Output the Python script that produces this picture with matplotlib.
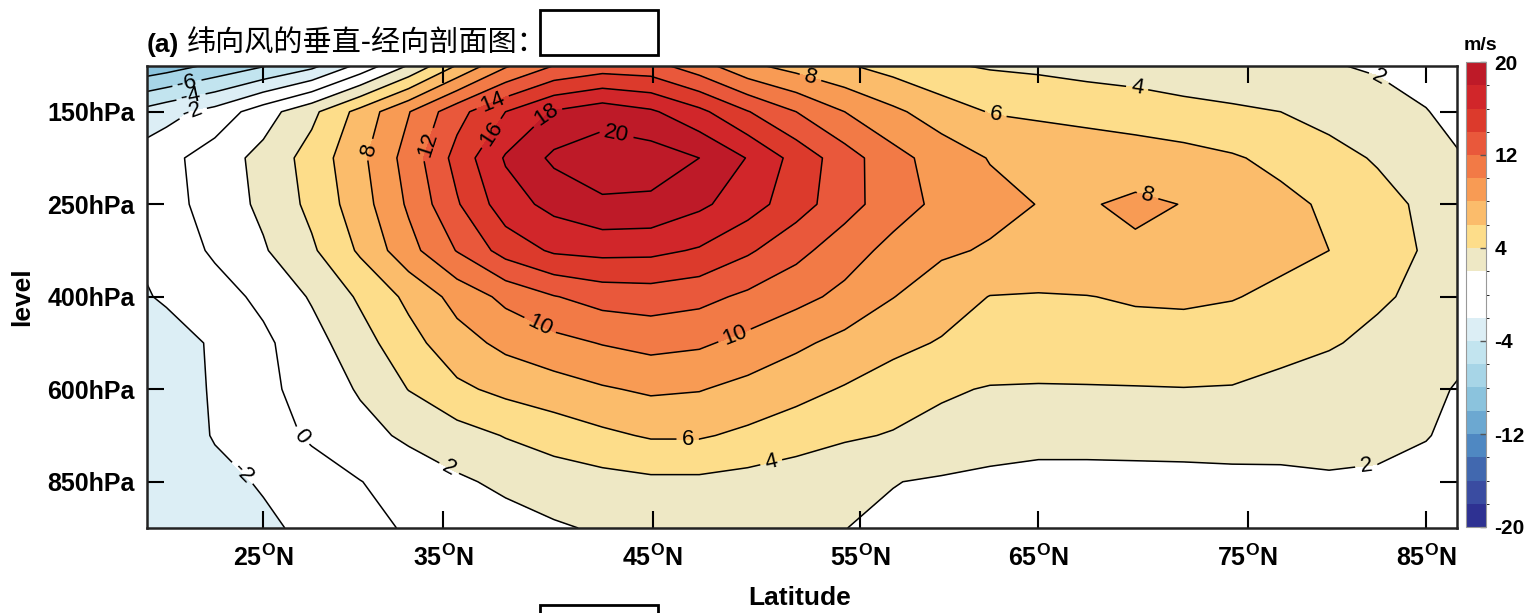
import numpy as np
import matplotlib
matplotlib.use("Agg")
import matplotlib.pyplot as plt
from matplotlib.colors import ListedColormap, BoundaryNorm
from matplotlib.cm import ScalarMappable
from matplotlib.patches import Rectangle

plt.rcParams['font.family'] = ['Liberation Sans', 'Noto Sans CJK SC', 'DejaVu Sans']
plt.rcParams['mathtext.fontset'] = 'custom'
plt.rcParams['mathtext.rm'] = 'Liberation Sans'
plt.rcParams['mathtext.bf'] = 'Liberation Sans:bold'
plt.rcParams['contour.negative_linestyle'] = 'solid'
plt.rcParams['axes.unicode_minus'] = False

# ================================
# data: zonal wind (m/s), rows = pressure levels, cols = latitude
# ================================
lats = [17.5, 20.0, 22.5, 25.0, 27.5, 30.0, 32.5, 35.0, 37.5, 40.0, 42.5, 45.0,
        47.5, 50.0, 52.5, 55.0, 57.5, 60.0, 62.5, 65.0, 67.5, 70.0, 72.5, 75.0,
        77.5, 80.0, 82.5, 85.0, 87.5]
levels_hpa = [100, 150, 200, 250, 300, 400, 500, 600, 700, 850, 925]

u100 = [-10.0, -9.0, -7.6, -6.2, -4.6, -1.5, 2.1, 6.1, 9.7, 12.0, 12.9, 12.7, 10.8, 8.4, 7.2,
        6.2, 5.2, 4.2, 3.8, 3.6, 3.3, 3.1, 2.8, 2.6, 2.3, 2.1, 1.8, 1.5, 1.2]
u150 = [-4.2, -2.7, -1.3, 1.1, 3.5, 6.7, 9.9, 13.3, 16.0, 18.2, 19.2, 18.3, 16.5, 14.1, 12.0,
        10.0, 8.4, 7.0, 5.9, 5.6, 5.3, 5.0, 4.6, 4.3, 4.0, 3.3, 2.7, 2.05, 1.4]
u200 = [-1.8, -0.6, 1.0, 2.6, 4.8, 7.5, 10.8, 14.7, 18.2, 20.4, 21.1, 21.0, 20.0, 17.9, 15.3,
        12.9, 10.7, 9.1, 7.9, 7.6, 7.3, 7.0, 6.7, 6.2, 5.5, 4.7, 3.8, 2.8, 1.8]
u250 = [-1.5, -0.8, 0.9, 2.4, 4.5, 7.1, 10.3, 13.8, 17.1, 18.6, 19.7, 19.6, 18.4, 16.9, 14.9,
        12.8, 10.9, 9.5, 8.6, 7.95, 7.85, 8.35, 7.95, 7.3, 6.5, 5.7, 4.7, 3.6, 2.6]
u300 = [-2.3, -1.2, 0.3, 1.8, 3.7, 6.3, 9.3, 12.1, 14.8, 16.3, 16.6, 16.5, 15.8, 14.3, 12.6,
        10.9, 9.4, 8.3, 7.8, 7.6, 7.6, 7.7, 7.4, 7.0, 6.5, 6.0, 4.9, 3.8, 2.8]
u400 = [-2.8, -1.7, -0.8, 0.45, 2.2, 4.3, 6.45, 8.7, 10.5, 11.9, 12.8, 13.0, 12.6, 11.6, 10.6,
        9.5, 8.05, 6.9, 5.95, 5.85, 5.95, 6.2, 6.3, 6.1, 5.6, 5.0, 4.3, 3.5, 2.6]
u500 = [-3.6, -3.0, -1.7, -0.4, 1.25, 3.2, 5.3, 7.2, 8.5, 9.4, 10.1, 10.6, 10.3, 9.4, 8.4,
        7.4, 6.5, 5.85, 5.6, 5.4, 5.3, 5.25, 5.2, 5.0, 4.6, 4.2, 3.5, 2.8, 2.1]
u600 = [-4.0, -3.2, -1.75, -0.5, 0.8, 2.2, 4.05, 5.6, 6.5, 7.1, 7.8, 8.3, 8.1, 7.4, 6.6,
        5.85, 5.1, 4.3, 3.85, 3.8, 3.85, 3.9, 3.95, 3.9, 3.5, 3.0, 2.6, 2.2, 1.8]
u700 = [-4.0, -3.3, -1.85, -0.85, 0.27, 1.35, 2.35, 3.2, 4.1, 4.9, 5.6, 6.2, 6.2, 5.6, 5.0,
        4.3, 3.85, 3.3, 2.8, 2.6, 2.6, 2.6, 2.6, 2.65, 2.6, 2.45, 2.25, 2.05, 1.6]
u850 = [-4.2, -3.6, -2.6, -1.8, -0.9, -0.05, 0.85, 1.7, 2.4, 2.9, 3.3, 3.6, 3.6, 3.3, 2.8,
        2.3, 2.05, 1.8, 1.6, 1.45, 1.45, 1.5, 1.55, 1.6, 1.65, 1.85, 1.85, 1.65, 1.5]
u925 = [-4.0, -3.6, -3.1, -2.4, -1.5, -0.6, 0.2, 0.7, 1.25, 1.8, 2.2, 2.5, 2.5, 2.4, 2.2,
        2.02, 1.7, 1.5, 1.35, 1.3, 1.3, 1.3, 1.3, 1.3, 1.3, 1.3, 1.25, 1.2, 1.1]

u = np.array([u100, u150, u200, u250, u300, u400, u500, u600, u700, u850, u925])

xtick_pos = [25.0, 34.3, 45.1, 55.8, 65.0, 75.8, 85.0]
xtick_lat = [25, 35, 45, 55, 65, 75, 85]
ytick_hpa = [150, 250, 400, 600, 850]
cbar_ticks = [-20, -12, -4, 4, 12, 20]

clevs = np.arange(-20, 21, 2)
colors = ['#2E3192', '#3A4CA1', '#4168AF', '#4F88C2', '#6CA8D1', '#8BC3DD', '#A7D5E7',
          '#C2E4EF', '#DCEEF5', '#FFFFFF', '#FFFFFF', '#EEE8C5', '#FDDD8A', '#FBBC6B',
          '#F89B54', '#F27A46', '#E9583B', '#DC3A2C', '#D1262A', '#BE1A28']
cmap = ListedColormap(colors)
cmap.set_over(colors[-1])
cmap.set_under(colors[0])
norm = BoundaryNorm(clevs, cmap.N)

# ================================
# figure
# ================================
W, H = 1532, 613
fig = plt.figure(figsize=(W / 100, H / 100), dpi=100)
ax = fig.add_axes([147 / W, 1 - 528 / H, 1310 / W, 462.5 / H])

yidx = np.arange(len(levels_hpa))
cf = ax.contourf(lats, yidx, u, levels=clevs, cmap=cmap, norm=norm, extend='both')
cs = ax.contour(lats, yidx, u, levels=clevs, colors='k', linewidths=1.1)

ax.set_xlim(19.0, 86.6)
ax.set_ylim(len(levels_hpa) - 1, 0)

label_pos = [(21.1, 0.46), (21.3, 0.74), (21.4, 1.11), (27.05, 7.98), (23.95, 8.8),
             (34.6, 8.7), (51.3, 8.74), (46.9, 8.11), (39.3, 5.6), (49.35, 5.87),
             (30.5, 1.82), (33.5, 1.71), (36.85, 0.81), (36.5, 1.39), (39.5, 1.02),
             (43.25, 1.43), (53.2, 0.31), (62.75, 1.17), (70.0, 0.70), (82.5, 0.31),
             (70.5, 3.01), (81.95, 8.78)]
ax.clabel(cs, fmt='%d', fontsize=16, inline=True, manual=label_pos)

ax.set_xticks(xtick_pos)
ax.set_xticklabels([r'$\mathbf{%d^{O}N}$' % v for v in xtick_lat])
ax.set_yticks([levels_hpa.index(p) for p in ytick_hpa])
ax.set_yticklabels(['%dhPa' % p for p in ytick_hpa], fontweight='bold')
ax.tick_params(direction='in', length=12, width=1.5, top=True, right=True,
               labelsize=18)
ax.tick_params(axis='x', pad=12)
ax.tick_params(axis='y', pad=9)
for s in ax.spines.values():
    s.set_linewidth(1.8)
    s.set_color('#222222')

fig.text(800 / W, 1 - 598 / H, 'Latitude', ha='center', va='center',
         fontsize=19, fontweight='bold')
fig.text(22 / W, 1 - 297 / H, 'level', ha='center', va='center', rotation=90,
         fontsize=19, fontweight='bold')

fig.text(147 / W, 1 - 52 / H, '(a)', ha='left', va='baseline',
         fontsize=19, fontweight='bold')
fig.text(187 / W, 1 - 52 / H, '纬向风的垂直-经向剖面图：', ha='left', va='baseline',
         fontsize=21, fontweight='medium',
         family=['Noto Sans CJK SC', 'DejaVu Sans'])
fig.add_artist(Rectangle((540 / W, 1 - 55 / H), 118 / W, 45 / H, transform=fig.transFigure,
                         facecolor='white', edgecolor='black', lw=2))
fig.add_artist(Rectangle((540 / W, 1 - 640 / H), 118 / W, 35 / H, transform=fig.transFigure,
                         facecolor='white', edgecolor='black', lw=2))

# colorbar
cax = fig.add_axes([1466 / W, 1 - 527 / H, 20 / W, 465 / H])
cb = fig.colorbar(ScalarMappable(norm=norm, cmap=cmap), cax=cax, ticks=cbar_ticks)
cb.ax.tick_params(labelsize=15, direction='in', length=4, width=1, color='#555555', pad=6)
for t in cb.ax.get_yticklabels():
    t.set_fontweight('bold')
cb.outline.set_linewidth(0.8)
cb.outline.set_edgecolor('#999999')
fig.text(1480 / W, 1 - 45 / H, 'm/s', ha='center', va='center', fontsize=14,
         fontweight='bold')

fig.savefig('out.png', dpi=100)
